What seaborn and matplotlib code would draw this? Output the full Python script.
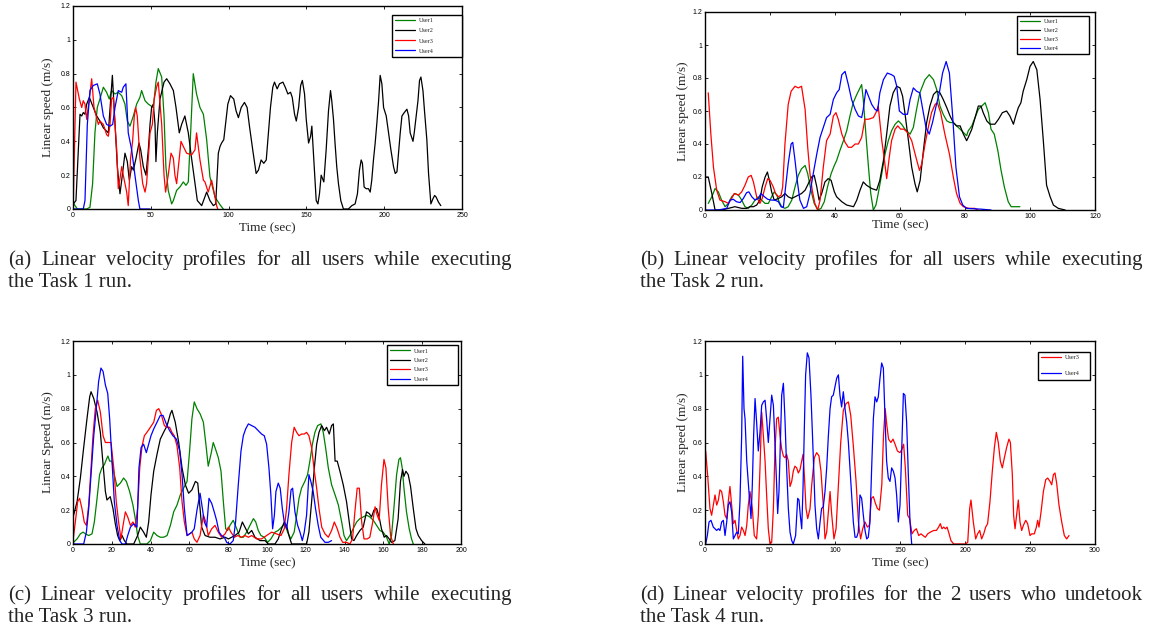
import matplotlib
matplotlib.use("Agg")
import pandas as pd
from matplotlib import pyplot as plt
import seaborn as sns

# (time in s, linear speed in m/s)
a_user1 = [(0, 0.04), (1.3, 0.02), (2.8, 0), (8.8, 0), (10.9, 0.01), (12.6, 0.15), (14.1, 0.45), (15.6, 0.6),
           (17.3, 0.65), (19.5, 0.72), (21.6, 0.69), (23.3, 0.65), (24.8, 0.7), (27, 0.68), (29.1, 0.69),
           (31.3, 0.67), (33.4, 0.62), (34.9, 0.52), (36.6, 0.49), (38.8, 0.55), (40.9, 0.62), (43, 0.66),
           (44.1, 0.7), (46.3, 0.64), (48.4, 0.62), (51.6, 0.6), (53.3, 0.75), (54.8, 0.83), (57, 0.78),
           (58.5, 0.55), (59.7, 0.25), (61.2, 0.11), (63.4, 0.03), (64.5, 0.05), (66.6, 0.11), (68.7, 0.13),
           (70.9, 0.16), (72.6, 0.14), (74.1, 0.16), (75.6, 0.45), (77.3, 0.8), (79.4, 0.68), (81.6, 0.6),
           (83.8, 0.56), (85.9, 0.41), (88, 0.19), (91.3, 0.07), (94.5, 0.025), (96.6, 0)]
a_user2 = [(0.2, 0.03), (1.9, 0.05), (4.5, 0.56), (5.6, 0.55), (6.6, 0.57), (7.7, 0.56), (8.8, 0.62), (10.5, 0.66),
           (13.1, 0.6), (15.2, 0.55), (17.3, 0.52), (19.5, 0.48), (21.6, 0.46), (22.7, 0.45), (24.2, 0.65),
           (25.3, 0.79), (27, 0.5), (28.5, 0.25), (30.2, 0.09), (31.7, 0.2), (33.4, 0.33), (34.9, 0.28),
           (36.2, 0.17), (37.7, 0.25), (38.8, 0.23), (40.5, 0.3), (42.4, 0.39), (43.5, 0.35), (45.2, 0.25),
           (46.9, 0.2), (48.4, 0.35), (49.5, 0.5), (50.5, 0.6), (51.6, 0.62), (52.7, 0.5), (53.3, 0.28),
           (54.2, 0.45), (55.9, 0.65), (58.5, 0.75), (60.2, 0.77), (62.3, 0.74), (64.5, 0.7), (66.2, 0.6),
           (68.3, 0.45), (69.8, 0.5), (71.9, 0.55), (74.1, 0.45), (76.2, 0.3), (77.7, 0.2), (79.9, 0.05),
           (82.7, 0.02), (85.9, 0.1), (88, 0.05), (90.2, 0.02), (91.7, 0.03), (93.4, 0.33), (94.5, 0.37),
           (95.5, 0.39), (96.9, 0.41), (98.4, 0.53), (99.5, 0.62), (101.2, 0.67), (103.3, 0.65), (104.8, 0.58),
           (106.3, 0.54), (108.1, 0.6), (110.2, 0.63), (111.9, 0.6), (113.4, 0.49), (115.5, 0.35), (117.7, 0.21),
           (119.2, 0.23), (120.9, 0.29), (122.6, 0.27), (124.2, 0.29), (125.6, 0.45), (126.9, 0.6), (128.4, 0.72),
           (129.5, 0.75), (131.2, 0.71), (132.7, 0.74), (134.9, 0.75), (136.4, 0.72), (138.1, 0.68), (139.8, 0.69),
           (140.9, 0.66), (142.4, 0.56), (143.5, 0.52), (145, 0.6), (146.3, 0.73), (147.4, 0.76), (148.8, 0.68),
           (149.9, 0.53), (151.4, 0.39), (152.7, 0.43), (153.5, 0.49), (154.8, 0.29), (156.3, 0.05), (157.4, 0.03),
           (158.4, 0.09), (159.5, 0.2), (161.2, 0.16), (162.7, 0.35), (164.2, 0.58), (165.5, 0.7), (166.3, 0.64),
           (167.4, 0.53), (168.4, 0.39), (169.5, 0.25), (170.6, 0.15), (172.1, 0.05), (173.8, 0), (177, 0),
           (179.2, 0.02), (181.3, 0.03), (182.8, 0.09), (184.1, 0.23), (185.2, 0.29), (186, 0.27), (187.1, 0.13),
           (188.4, 0.12), (189.9, 0.12), (191, 0.1), (192, 0.17), (193.1, 0.29), (194.2, 0.39), (195.3, 0.51),
           (196.4, 0.64), (197.4, 0.79), (198.5, 0.74), (199.6, 0.6), (201.3, 0.55), (202.8, 0.45), (204.3, 0.35),
           (206, 0.25), (207.1, 0.21), (208.2, 0.22), (209.2, 0.33), (210.3, 0.45), (211.4, 0.55), (212.9, 0.57),
           (214.6, 0.59), (215.7, 0.55), (216.7, 0.45), (218.5, 0.4), (219.3, 0.45), (220.6, 0.55), (221.7, 0.64),
           (222.7, 0.76), (223.6, 0.78), (224.9, 0.7), (225.9, 0.58), (227.4, 0.41), (228.5, 0.21), (230, 0.03),
           (231.3, 0.06), (232.4, 0.08), (233.4, 0.07), (234.9, 0.04), (236.4, 0.02)]
a_user3 = [(0.2, 0.05), (1.9, 0.75), (4.1, 0.65), (5.6, 0.6), (6.6, 0.64), (7.7, 0.62), (8.8, 0.53), (10.5, 0.65),
           (12, 0.77), (13.5, 0.6), (16.3, 0.5), (17.3, 0.52), (19.5, 0.5), (21.6, 0.44), (22.7, 0.43), (23.8, 0.5),
           (24.8, 0.65), (25.9, 0.66), (27, 0.5), (28.1, 0.35), (29.1, 0.12), (30.2, 0.18), (31.3, 0.25),
           (32.3, 0.2), (33.4, 0.15), (34.5, 0.1), (35.5, 0.02), (37, 0.3), (38.3, 0.4), (39.4, 0.55), (40.3, 0.6),
           (41.3, 0.55), (43, 0.3), (44.8, 0.15), (46.3, 0.1), (47.3, 0.15), (48.4, 0.3), (49.5, 0.45), (51, 0.5),
           (52.2, 0.65), (53.7, 0.72), (54.8, 0.75), (57, 0.5), (58.5, 0.2), (59.5, 0.1), (61.2, 0.2), (63, 0.33),
           (64.5, 0.3), (65.5, 0.2), (66.6, 0.15), (68.3, 0.3), (69.4, 0.4), (70.9, 0.37), (73, 0.33), (76.2, 0.32),
           (78.4, 0.35), (79.4, 0.45), (81.6, 0.29), (83.8, 0.17), (84.8, 0.16), (86.9, 0.1), (89.1, 0.17),
           (90.2, 0.12), (92.3, 0.02), (93, 0)]
a_user4 = [(0, 0), (6.6, 0), (7.7, 0.05), (9.2, 0.5), (10.9, 0.7), (13, 0.73), (15.6, 0.74), (17.3, 0.68),
           (19.5, 0.55), (21.6, 0.5), (23.8, 0.49), (25.5, 0.5), (27, 0.6), (29.1, 0.7), (31.3, 0.69), (32.3, 0.72),
           (34, 0.74), (35.5, 0.45), (37.7, 0.35), (39.8, 0.2), (42, 0.05), (43, 0), (49.5, 0)]

b_user1 = [(1, 0.04), (2.1, 0.08), (3.1, 0.13), (4.1, 0.11), (5.1, 0.06), (6.2, 0.02), (7.2, 0.04), (8.2, 0.08),
           (9.2, 0.1), (10.3, 0.09), (11.3, 0.06), (12.3, 0.02), (13.3, 0.01), (14.4, 0.03), (15.4, 0.06),
           (16.4, 0.08), (17.4, 0.06), (18.5, 0.04), (19.5, 0.04), (20.5, 0.08), (21.3, 0.11), (22.1, 0.09),
           (22.8, 0.05), (23.6, 0.02), (24.6, 0.01), (25.6, 0.02), (26.7, 0.06), (27.7, 0.14), (28.7, 0.21),
           (29.7, 0.25), (30.8, 0.27), (31.6, 0.22), (32.6, 0.12), (33.6, 0.04), (34.7, 0), (35.7, 0.01),
           (36.7, 0.05), (37.7, 0.14), (38.8, 0.22), (39.8, 0.27), (40.5, 0.3), (41.5, 0.36), (42.6, 0.42),
           (43.6, 0.48), (44.6, 0.57), (45.6, 0.65), (46.7, 0.7), (47.7, 0.74), (48.2, 0.76), (48.7, 0.67),
           (49.5, 0.46), (50.3, 0.26), (51, 0.1), (51.8, 0), (52.6, 0.03), (53.3, 0.1), (54.4, 0.22), (55.4, 0.34),
           (56.4, 0.42), (57.4, 0.48), (58.5, 0.52), (59.5, 0.54), (60.5, 0.52), (61.5, 0.49), (63.1, 0.46),
           (64.1, 0.5), (65.1, 0.61), (66.1, 0.71), (67.7, 0.79), (69, 0.82), (70.3, 0.79), (71.3, 0.73),
           (72.3, 0.63), (73.3, 0.58), (74.4, 0.54), (75.4, 0.53), (76.4, 0.53), (77.4, 0.51), (78.5, 0.49),
           (79.5, 0.47), (80.5, 0.45), (81, 0.48), (82.1, 0.51), (83.1, 0.56), (84.1, 0.61), (86.2, 0.65),
           (87.2, 0.59), (88, 0.49), (89, 0.46), (90.1, 0.36), (91.1, 0.24), (92.1, 0.14), (93.3, 0.05),
           (94.2, 0.02), (96.9, 0.02)]
b_user2 = [(0, 0.2), (1, 0.2), (2.1, 0.1), (3.1, 0), (5.1, 0), (7.2, 0.01), (9.2, 0.02), (11.3, 0.01), (12.8, 0.01),
           (13.8, 0.02), (14.9, 0.02), (15.9, 0.03), (16.9, 0.06), (17.6, 0.14), (18.5, 0.2), (19.2, 0.23),
           (19.8, 0.18), (20.5, 0.11), (21.3, 0.06), (22.6, 0.07), (23.6, 0.08), (24.6, 0.1), (25.6, 0.08),
           (26.7, 0.07), (27.7, 0.08), (28.7, 0.09), (29.7, 0.1), (30.8, 0.12), (31.8, 0.16), (32.8, 0.2),
           (33.6, 0.21), (34.4, 0.14), (35.1, 0.06), (35.9, 0.1), (36.9, 0.17), (37.9, 0.19), (38.8, 0.18),
           (39.8, 0.11), (40.5, 0.08), (42.1, 0.05), (43.6, 0.03), (45.7, 0.02), (46.7, 0.06), (47.7, 0.12),
           (48.7, 0.17), (49.7, 0.15), (51.3, 0.13), (52.8, 0.12), (53.8, 0.18), (54.9, 0.3), (55.9, 0.46),
           (56.9, 0.63), (57.9, 0.71), (59, 0.75), (60, 0.74), (60.8, 0.69), (61.5, 0.59), (62.6, 0.42),
           (63.6, 0.26), (64.6, 0.16), (65.3, 0.11), (66.2, 0.18), (67.2, 0.36), (68.2, 0.53), (69.2, 0.63),
           (70.3, 0.7), (71.3, 0.72), (72.3, 0.71), (73.3, 0.67), (74.4, 0.62), (75.4, 0.57), (76.4, 0.53),
           (77.4, 0.51), (78.5, 0.51), (79.5, 0.46), (80.5, 0.42), (81, 0.44), (82.1, 0.49), (83.1, 0.56),
           (84.1, 0.63), (84.9, 0.63), (85.6, 0.59), (86.7, 0.54), (87.7, 0.52), (89.2, 0.52), (90.3, 0.55),
           (91.5, 0.59), (92.8, 0.6), (93.8, 0.57), (94.9, 0.52), (95.6, 0.57), (96.4, 0.62), (97.2, 0.65),
           (97.9, 0.72), (99, 0.79), (100, 0.87), (101, 0.9), (102.1, 0.85), (103.1, 0.67), (104.1, 0.42),
           (105.1, 0.15), (106.2, 0.08), (107.2, 0.03), (108.7, 0.01), (110.8, 0)]
b_user3 = [(1, 0.71), (1.8, 0.46), (2.6, 0.26), (3.6, 0.12), (4.6, 0.06), (6.2, 0.05), (7.2, 0.04), (8.2, 0.07),
           (9, 0.1), (10.3, 0.09), (11.3, 0.11), (12.3, 0.15), (13.3, 0.2), (14.2, 0.21), (14.9, 0.17), (15.9, 0.08),
           (16.9, 0.04), (17.6, 0.07), (18.5, 0.14), (19.3, 0.19), (20, 0.18), (21, 0.14), (21.7, 0.1), (22.6, 0.08),
           (23.4, 0.09), (23.9, 0.14), (24.6, 0.4), (25.6, 0.64), (26.5, 0.72), (27.7, 0.75), (28.7, 0.74),
           (29.7, 0.75), (30.8, 0.61), (31.6, 0.38), (32.3, 0.22), (33, 0.12), (33.8, 0.04), (34.7, 0), (35.4, 0.06),
           (36.4, 0.26), (37.4, 0.42), (38.5, 0.46), (39.5, 0.57), (40.3, 0.59), (41, 0.55), (42.1, 0.46),
           (43.1, 0.41), (44.1, 0.38), (45.1, 0.38), (46.2, 0.4), (47.2, 0.4), (48.2, 0.44), (49.2, 0.55),
           (50.3, 0.55), (51.8, 0.56), (52.6, 0.59), (53.3, 0.63), (54.4, 0.42), (55.1, 0.32), (55.9, 0.19),
           (56.7, 0.32), (57.4, 0.42), (58.5, 0.49), (59.3, 0.51), (60.2, 0.49), (61.2, 0.49), (62.3, 0.47),
           (63.6, 0.42), (64.9, 0.32), (66, 0.24), (66.7, 0.28), (67.7, 0.4), (68.7, 0.5), (69.7, 0.59),
           (70.8, 0.64), (71.5, 0.65), (72.5, 0.59), (73.8, 0.46), (75.2, 0.34), (76.4, 0.2), (77.4, 0.1),
           (78.5, 0.04), (79.5, 0.02), (81.1, 0.01), (83, 0.01), (84, 0)]
b_user4 = [(0, 0), (4.1, 0), (6.7, 0.01), (7.7, 0.06), (8.7, 0.065), (9.7, 0.05), (10.8, 0.045), (11.8, 0.07),
           (12.8, 0.105), (13.5, 0.11), (14.4, 0.08), (15.4, 0.06), (16.4, 0.07), (17.2, 0.1), (18.3, 0.08),
           (19.3, 0.065), (20.5, 0.06), (21.5, 0.06), (22.6, 0.05), (23.4, 0.02), (24.1, 0.015), (24.8, 0.14),
           (25.6, 0.28), (26.5, 0.4), (27, 0.41), (27.7, 0.3), (28.5, 0.16), (29.2, 0.06), (30.3, 0.01),
           (31.3, 0.02), (32.3, 0.1), (33.3, 0.22), (34.4, 0.34), (35.4, 0.44), (36.4, 0.5), (37.4, 0.56),
           (38.5, 0.58), (39.5, 0.67), (40.5, 0.71), (41.3, 0.73), (42.1, 0.82), (43.1, 0.84), (44.1, 0.76),
           (45.1, 0.67), (46.2, 0.61), (47.2, 0.57), (48.2, 0.56), (48.7, 0.61), (49.5, 0.73), (50.3, 0.69),
           (51.3, 0.64), (52.3, 0.61), (53.1, 0.6), (53.8, 0.71), (54.9, 0.79), (56.1, 0.83), (57.4, 0.82),
           (58.2, 0.81), (59, 0.75), (59.8, 0.6), (61, 0.58), (62.3, 0.58), (63.1, 0.67), (64.1, 0.74),
           (65.1, 0.72), (66.1, 0.71), (67, 0.61), (68, 0.5), (69, 0.46), (70, 0.53), (71.1, 0.63), (72.1, 0.71),
           (73.1, 0.83), (74.2, 0.9), (75.2, 0.83), (76.2, 0.57), (77.2, 0.26), (78.3, 0.08), (79.3, 0.03),
           (80.5, 0.01), (85, 0.005), (88, 0)]

c_user1 = [(0.3, 0.01), (2.1, 0.03), (3.8, 0.06), (5.2, 0.07), (6.4, 0.06), (8.1, 0.05), (9.8, 0.06), (11, 0.13),
           (12.4, 0.27), (13.7, 0.41), (14.9, 0.45), (16.2, 0.47), (17.2, 0.5), (18, 0.52), (18.9, 0.49),
           (20.1, 0.49), (21.3, 0.41), (22.7, 0.34), (24.4, 0.36), (26.1, 0.39), (27.5, 0.37), (29.2, 0.31),
           (30.9, 0.23), (32.1, 0.15), (33.3, 0.05), (34.7, 0), (38.1, 0), (39.9, 0.02), (41.6, 0.07), (43.3, 0.05),
           (45, 0.04), (46.7, 0.04), (48.5, 0.05), (50.2, 0.11), (51.9, 0.19), (53.6, 0.23), (55.3, 0.29),
           (57, 0.33), (58.8, 0.37), (60.1, 0.55), (61.3, 0.74), (62.5, 0.84), (63.9, 0.8), (65.5, 0.77),
           (67.2, 0.72), (68.5, 0.59), (69.7, 0.46), (71.1, 0.53), (72.3, 0.6), (73.5, 0.56), (74.9, 0.51),
           (76.3, 0.43), (77.5, 0.25), (78.7, 0.09), (79.7, 0.08), (80.9, 0.11), (82.6, 0.14), (84.4, 0.09),
           (86.1, 0.04), (87.8, 0.04), (89.5, 0.07), (91.2, 0.11), (93, 0.15), (94.2, 0.13), (95.5, 0.08),
           (96.9, 0.05), (98.6, 0.04), (100.3, 0.01), (102, 0.03), (104.1, 0.07), (105.8, 0.08), (107.5, 0.1),
           (109.2, 0.12), (110.6, 0.07), (112.3, 0.03), (114, 0.07), (115.3, 0.17), (116.5, 0.27), (117.8, 0.33),
           (119.5, 0.37), (120.9, 0.41), (122.1, 0.49), (123.4, 0.59), (124.7, 0.66), (126.1, 0.7), (127.8, 0.71),
           (129, 0.66), (130.2, 0.57), (131.6, 0.45), (133.3, 0.35), (135.1, 0.29), (136.8, 0.23), (138.5, 0.13),
           (139.7, 0.05), (141, 0.02), (142.7, 0.05), (144.4, 0.09), (146.2, 0.13), (147.9, 0.15), (149.6, 0.16),
           (151.3, 0.17), (153, 0.16), (154.8, 0.14), (156.5, 0.11), (158.2, 0.08), (159.9, 0.07), (161.6, 0.04),
           (163, 0), (164.2, 0.05), (165.4, 0.21), (166.8, 0.41), (168, 0.5), (168.8, 0.51), (169.7, 0.45),
           (170.6, 0.33), (171.9, 0.19), (173.3, 0.09), (174.5, 0.03), (175.4, 0)]
c_user2 = [(0.3, 0.17), (2.1, 0.25), (3.8, 0.39), (5.5, 0.57), (7.2, 0.74), (8.6, 0.87), (9.3, 0.9), (10.7, 0.86),
           (12.4, 0.78), (14.1, 0.66), (15.5, 0.47), (16.7, 0.31), (17.5, 0.26), (19.2, 0.28), (20.6, 0.21),
           (21.8, 0.12), (23, 0.05), (24.1, 0.02), (25.3, 0.05), (26.5, 0.02), (27.8, 0), (31.3, 0), (33.3, 0.05),
           (34.7, 0.1), (36.4, 0.07), (37.8, 0.04), (39, 0.13), (40.2, 0.29), (41.6, 0.43), (43.3, 0.53),
           (45, 0.62), (46.7, 0.66), (48.5, 0.7), (50.2, 0.77), (51, 0.79), (52.7, 0.72), (54.5, 0.6), (56.2, 0.45),
           (57.9, 0.35), (59.6, 0.3), (61.3, 0.32), (63.1, 0.37), (64.3, 0.36), (65.5, 0.21), (66.3, 0.1),
           (68.1, 0.05), (70.6, 0.04), (73.2, 0.04), (75.8, 0.03), (78.4, 0.04), (80.1, 0.03), (81.8, 0.04),
           (83.5, 0.05), (85.6, 0.07), (87.3, 0.13), (88.6, 0.1), (90.4, 0.06), (92.1, 0.08), (93.8, 0.04),
           (96.4, 0.02), (99, 0.02), (100.7, 0), (104.1, 0), (105.8, 0.03), (107.5, 0.09), (108.9, 0.13),
           (110.1, 0.11), (111.3, 0.05), (112.7, 0), (120.4, 0), (121.6, 0.07), (123, 0.25), (124.4, 0.45),
           (125.6, 0.59), (126.8, 0.66), (128.2, 0.7), (129.6, 0.67), (130.7, 0.69), (132.1, 0.65), (133.3, 0.7),
           (134.2, 0.71), (135.1, 0.49), (136.2, 0.49), (137.6, 0.43), (139.3, 0.35), (141, 0.25), (142.4, 0.13),
           (143.6, 0.03), (144.8, 0.02), (146.2, 0.05), (147.9, 0.08), (149.6, 0.1), (151.3, 0.19), (152.7, 0.18),
           (153.9, 0.16), (155.1, 0.2), (156.5, 0.21), (157.8, 0.16), (159, 0.09), (160.4, 0.04), (161.6, 0.05),
           (163, 0.03), (164.2, 0.01), (165.9, 0.02), (167.6, 0.15), (168.8, 0.37), (169.9, 0.44), (170.6, 0.4),
           (171.6, 0.43), (172.8, 0.41), (174, 0.34), (175.4, 0.21), (176.8, 0.09), (178, 0.05), (179.7, 0.02),
           (181.4, 0)]
c_user3 = [(0, 0.02), (1.2, 0.13), (2.4, 0.25), (3.4, 0.27), (4.6, 0.21), (5.8, 0.13), (6.9, 0.11), (8.1, 0.23),
           (9.3, 0.45), (10.3, 0.64), (11.5, 0.8), (12.7, 0.85), (14.1, 0.78), (15.5, 0.64), (16.7, 0.6),
           (18.4, 0.6), (19.6, 0.6), (21, 0.45), (22.3, 0.25), (23.5, 0.13), (24.7, 0.03), (25.8, 0.11), (27, 0.19),
           (28.2, 0.16), (29.6, 0.11), (30.9, 0.13), (32.1, 0.1), (33.3, 0.21), (34.4, 0.45), (35.6, 0.58),
           (36.8, 0.64), (38.1, 0.66), (39.9, 0.69), (41.6, 0.72), (43, 0.79), (44.2, 0.8), (45.4, 0.77),
           (47.1, 0.7), (48.5, 0.69), (49.8, 0.69), (51, 0.66), (52.2, 0.64), (53.6, 0.58), (55, 0.45), (56.2, 0.25),
           (57.4, 0.13), (58.8, 0.05), (60.1, 0.06), (61.3, 0.07), (62.5, 0.03), (63.9, 0.01), (65.5, 0.05),
           (67.2, 0.17), (68.5, 0.13), (69.7, 0.05), (71.5, 0.09), (73.2, 0.11), (74.9, 0.07), (76.6, 0.04),
           (78.4, 0.06), (80.1, 0.1), (81.4, 0.07), (83.2, 0.04), (84.9, 0.05), (86.9, 0.04), (88.6, 0.05),
           (90.4, 0.04), (92.1, 0.05), (94.7, 0.03), (97.2, 0.03), (99.8, 0.05), (102.4, 0.07), (104.9, 0.06),
           (107.2, 0.05), (108.9, 0.09), (110.1, 0.21), (111.3, 0.41), (112.7, 0.6), (114, 0.69), (115.3, 0.66),
           (116.5, 0.64), (117.8, 0.65), (119.2, 0.65), (120.4, 0.66), (121.6, 0.64), (123, 0.57), (124.4, 0.43),
           (125.6, 0.33), (126.8, 0.21), (128.2, 0.1), (129.9, 0.06), (131.6, 0.04), (133.3, 0.08), (134.7, 0.13),
           (136.2, 0.09), (137.6, 0.04), (139, 0.01), (141, 0.01), (142.7, 0), (144.1, 0.03), (145.3, 0.19),
           (146.5, 0.33), (147.6, 0.33), (148.8, 0.13), (150, 0.03), (151.7, 0.03), (153, 0.04), (154.5, 0.13),
           (155.7, 0.22), (156.5, 0.18), (157.8, 0.14), (159, 0.35), (160.3, 0.5), (161.3, 0.45), (162.5, 0.21),
           (163.7, 0.05), (165.1, 0)]
c_user4 = [(0, 0), (5.5, 0), (6.9, 0.07), (8.1, 0.21), (9.3, 0.41), (10.7, 0.64), (12, 0.8), (13.2, 0.96),
           (14.4, 1.04), (15.5, 1.02), (16.7, 0.94), (17.9, 0.89), (18.9, 0.74), (20.1, 0.49), (21.3, 0.25),
           (22.7, 0.11), (24.1, 0.02), (25.3, 0), (27, 0), (28.2, 0.05), (29.6, 0.1), (31.3, 0.12), (33, 0.1),
           (34, 0.45), (35.1, 0.57), (36.4, 0.59), (37.8, 0.54), (39, 0.59), (40.2, 0.64), (41.6, 0.68),
           (43.3, 0.72), (45, 0.76), (46.4, 0.76), (48.1, 0.71), (49.8, 0.67), (51.5, 0.64), (53.3, 0.62),
           (55, 0.55), (56.2, 0.41), (57.4, 0.21), (58.8, 0.05), (60.1, 0.06), (61.3, 0.07), (62.5, 0.09),
           (63.9, 0.2), (65.5, 0.3), (66.7, 0.21), (67.7, 0.13), (68.9, 0.1), (70.1, 0.27), (71.5, 0.24),
           (72.8, 0.19), (74, 0.14), (75.3, 0.07), (76.6, 0.05), (78, 0.04), (79.2, 0.01), (80.9, 0), (82.6, 0.02),
           (83.8, 0.13), (85.2, 0.35), (86.6, 0.55), (87.8, 0.64), (89, 0.68), (90.4, 0.71), (92.1, 0.7),
           (93.8, 0.69), (95.5, 0.67), (97.2, 0.65), (98.6, 0.64), (99.8, 0.59), (101, 0.45), (102, 0.29),
           (102.9, 0.09), (103.8, 0.17), (104.6, 0.31), (105.8, 0.36), (106.8, 0.33), (107.9, 0.21), (108.9, 0.13),
           (110.1, 0.09), (111.3, 0.19), (112.4, 0.32), (113.2, 0.33), (114.4, 0.19), (115.8, 0.11), (117, 0.07),
           (118.2, 0.02), (119.2, 0.07), (120.4, 0.17), (121.6, 0.41), (122.6, 0.37), (123.8, 0.31), (125, 0.21),
           (126.4, 0.11), (127.7, 0.04), (129.9, 0.01), (131.6, 0.01), (133.3, 0.02)]

d_user3 = [(0.5, 0.55), (2, 0.41), (3.8, 0.21), (5.1, 0.17), (6.4, 0.23), (7.7, 0.29), (9, 0.23), (10.3, 0.26),
           (11.5, 0.32), (12.8, 0.31), (14.1, 0.25), (15.4, 0.17), (16.7, 0.15), (17.9, 0.25), (19.2, 0.34),
           (20.5, 0.23), (21.8, 0.12), (23.1, 0.14), (24.4, 0.08), (25.6, 0.03), (26.9, 0.05), (28.2, 0.1),
           (29.5, 0.08), (30.8, 0.05), (32.1, 0.11), (33.3, 0.23), (34.6, 0.31), (36.4, 0.21), (37.9, 0.05),
           (39.7, 0.03), (41, 0.17), (42.3, 0.45), (43.6, 0.78), (44.9, 0.64), (46.2, 0.49), (47.4, 0.29),
           (48.7, 0.09), (50, 0), (51.3, 0.01), (52.6, 0.21), (53.8, 0.55), (55.1, 0.74), (56.4, 0.75), (57.7, 0.64),
           (59, 0.56), (60.3, 0.52), (61.5, 0.51), (62.8, 0.53), (64.1, 0.49), (65.4, 0.34), (66.7, 0.37),
           (67.9, 0.43), (69.2, 0.46), (70.5, 0.45), (71.8, 0.42), (73.1, 0.44), (74.4, 0.49), (75.4, 0.53),
           (76.4, 0.41), (77.7, 0.21), (79, 0.15), (80.8, 0.21), (82.1, 0.35), (84.1, 0.51), (85.9, 0.54),
           (87.7, 0.52), (89.2, 0.43), (90.8, 0.25), (92.3, 0.03), (93.6, 0.07), (94.9, 0.19), (96.2, 0.31),
           (97.4, 0.18), (99.2, 0.03), (100.8, 0.09), (102.6, 0.35), (104.4, 0.6), (106.4, 0.79), (108.5, 0.83),
           (110.3, 0.84), (112.1, 0.76), (114.1, 0.58), (116.2, 0.37), (118, 0.13), (119.7, 0.03), (121.3, 0.09),
           (123.1, 0.13), (124.9, 0.1), (126.4, 0.11), (128, 0.27), (129.5, 0.28), (131.1, 0.24), (132.6, 0.21),
           (134.2, 0.2), (136, 0.35), (137.3, 0.64), (138.6, 0.8), (139.9, 0.7), (141.2, 0.62), (143, 0.6),
           (144.6, 0.62), (146.2, 0.59), (148, 0.55), (150, 0.54), (151.5, 0.56), (152.8, 0.59), (154.1, 0.45),
           (155.9, 0.17), (157.4, 0.15), (159.2, 0.06), (161, 0.08), (162.6, 0.09), (164.4, 0.05), (166.2, 0.06),
           (167.7, 0.05), (169.5, 0.04), (171.3, 0.06), (173.3, 0.07), (175.9, 0.08), (178, 0.08), (179.7, 0.1),
           (181, 0.12), (182.3, 0.09), (183.6, 0.1), (184.9, 0.09), (186.2, 0.1), (187.4, 0.07), (189.2, 0.02),
           (191.3, 0), (200.3, 0), (202.1, 0.01), (203.6, 0.21), (204.6, 0.26), (206.4, 0.13), (208.2, 0.03),
           (209.7, 0.06), (211.3, 0.08), (212.8, 0.03), (214.4, 0.06), (215.9, 0.1), (217.4, 0.12), (219.2, 0.25),
           (221, 0.43), (222.6, 0.57), (224.1, 0.66), (225.6, 0.6), (227.2, 0.49), (228.7, 0.45), (230.3, 0.51),
           (232, 0.57), (233.8, 0.62), (234.9, 0.6), (236.4, 0.41), (237.4, 0.17), (238.5, 0.09), (239.7, 0.17),
           (241, 0.26), (242.3, 0.13), (243.6, 0.08), (244.9, 0.11), (246.7, 0.14), (248.2, 0.12), (250, 0.05),
           (251.3, 0.06), (253.3, 0.06), (254.9, 0.1), (255.9, 0.14), (256.9, 0.1), (258.5, 0.19), (260.3, 0.31),
           (262.1, 0.38), (263.6, 0.39), (265.4, 0.37), (266.7, 0.35), (268, 0.41), (269.2, 0.42), (270.5, 0.36),
           (272.3, 0.23), (274.4, 0.13), (276.4, 0.05), (278.2, 0.03), (280, 0.05)]
d_user4 = [(0.5, 0), (1.8, 0.05), (3.1, 0.13), (4.6, 0.14), (6.4, 0.1), (7.7, 0.09), (9, 0.08), (10.3, 0.09),
           (11.5, 0.08), (12.8, 0.13), (14.1, 0.14), (15.4, 0.05), (16.7, 0.13), (17.9, 0.23), (19.2, 0.25),
           (20.5, 0.19), (21.8, 0.03), (23.1, 0.05), (24.4, 0.07), (25.6, 0.06), (26.9, 0.25), (28.2, 0.64),
           (29, 1.11), (30, 0.8), (30.8, 0.74), (32.1, 0.49), (33.8, 0.31), (35.4, 0.15), (36.4, 0.35),
           (37.4, 0.64), (38.5, 0.86), (39.7, 0.72), (41, 0.55), (42.3, 0.66), (43.6, 0.82), (44.9, 0.84),
           (46.2, 0.85), (47.4, 0.74), (48.7, 0.6), (50, 0.74), (51.3, 0.88), (52.6, 0.82), (53.8, 0.6),
           (55.1, 0.35), (55.9, 0.18), (56.9, 0.31), (57.9, 0.58), (59, 0.88), (60.3, 0.95), (61.5, 0.74),
           (62.8, 0.45), (64.1, 0.21), (65.4, 0.07), (66.7, 0.02), (67.9, 0), (69.7, 0.05), (71.3, 0.27),
           (72.3, 0.26), (73.3, 0.17), (74.4, 0.09), (75.4, 0.33), (76.4, 0.68), (77.4, 1.0), (78.7, 1.13),
           (80, 1.1), (81.5, 0.88), (82.6, 0.66), (83.6, 0.45), (84.6, 0.23), (85.9, 0.09), (87.2, 0.03),
           (88.5, 0.13), (89.7, 0.21), (91, 0.22), (92.3, 0.31), (93.6, 0.45), (94.9, 0.64), (96.2, 0.8),
           (97.4, 0.87), (98.7, 0.88), (100, 0.93), (101.3, 0.98), (102.6, 1.0), (103.8, 0.88), (105.1, 0.81),
           (106.4, 0.9), (107.7, 0.8), (109, 0.72), (110.3, 0.6), (111.5, 0.45), (112.8, 0.29), (114.1, 0.13),
           (115.4, 0.04), (116.7, 0.04), (117.9, 0.07), (119.2, 0.29), (120.5, 0.27), (121.8, 0.17), (123.1, 0.08),
           (124.4, 0.03), (125.6, 0.04), (126.9, 0.13), (128.2, 0.45), (129.5, 0.74), (130.8, 0.87), (132.1, 0.84),
           (133.3, 0.87), (134.6, 0.98), (135.9, 1.07), (137.2, 1.04), (138.5, 0.74), (139.7, 0.49), (141, 0.39),
           (142.3, 0.37), (143.6, 0.45), (144.9, 0.43), (146.2, 0.39), (147.4, 0.29), (148.7, 0.13), (150, 0.23),
           (151.3, 0.55), (152.6, 0.89), (153.8, 0.88), (155.1, 0.72), (156.4, 0.41), (157.7, 0.13), (159, 0)]

y_ticks = [0, 0.2, 0.4, 0.6, 0.8, 1, 1.2]
y_tick_labels = ["0", "0.2", "0.4", "0.6", "0.8", "1", "1.2"]

COLORS = {"User1": "#008000", "User2": "black", "User3": "red", "User4": "blue"}

W, H = 1151, 630
CAPTION_SIZE = 15

panels = [
    dict(box=(73, 6, 462, 209), series={"User1": a_user1, "User2": a_user2, "User3": a_user3, "User4": a_user4},
         xticks=range(0, 251, 50), ylabel="Linear speed (m/s)", ylab_x=-0.063, xlab_y=-0.094,
         leg=(0.82, 0.0, 0.18, 0.956), leg_space=0.75,
         caption=("(a) Linear velocity profiles for all users while executing", "the Task 1 run."),
         cap_x=(8, 512), cap_y=(265, 287)),
    dict(box=(705, 12, 1095, 210), series={"User1": b_user1, "User2": b_user2, "User3": b_user3, "User4": b_user4},
         xticks=range(0, 121, 20), ylabel="Linear speed (m/s)", ylab_x=-0.056, xlab_y=-0.076,
         leg=(0.80, 0.0, 0.185, 0.98), leg_space=0.55,
         caption=("(b) Linear velocity profiles for all users while executing", "the Task 2 run."),
         cap_x=(640, 1143), cap_y=(265, 287)),
    dict(box=(73, 341, 461, 544), series={"User1": c_user1, "User2": c_user2, "User3": c_user3, "User4": c_user4},
         xticks=range(0, 201, 20), ylabel="Linear Speed (m/s)", ylab_x=-0.064, xlab_y=-0.094,
         leg=(0.809, 0.0, 0.183, 0.98), leg_space=0.65,
         caption=("(c) Linear velocity profiles for all users while executing", "the Task 3 run."),
         cap_x=(8, 512), cap_y=(600, 622)),
    dict(box=(705, 341, 1095, 544), series={"User3": d_user3, "User4": d_user4},
         xticks=range(0, 301, 50), ylabel="Linear speed (m/s)", ylab_x=-0.056, xlab_y=-0.094,
         leg=(0.854, 0.0, 0.133, 0.946), leg_space=1.7,
         caption=("(d) Linear velocity profiles for the 2 users who undetook", "the Task 4 run."),
         cap_x=(640, 1143), cap_y=(600, 622)),
]


def to_frame(series):
    rows = []
    for user, pts in series.items():
        for t, v in pts:
            rows.append((user, t, v))
    return pd.DataFrame(rows, columns=["user", "time", "speed"])


def justified_line(fig, x0, x1, y, text, size):
    # spread the words so the line runs from x0 to x1 (pixels)
    renderer = fig.canvas.get_renderer()
    words = text.split()
    arts = [fig.text(0, 1 - y / H, w, fontsize=size, va="baseline") for w in words]
    widths = [a.get_window_extent(renderer).width for a in arts]
    gap = (x1 - x0 - sum(widths)) / (len(words) - 1)
    x = x0
    for a, w in zip(arts, widths):
        a.set_x(x / W)
        x += w + gap


def plain_line(fig, x0, y, text, size):
    fig.text(x0 / W, 1 - y / H, text, fontsize=size, va="baseline")


sns.set_style("ticks")
plt.rcParams["font.family"] = ["Liberation Serif", "DejaVu Serif"]
plt.rcParams["axes.linewidth"] = 1.0

fig = plt.figure(figsize=(W / 100, H / 100), dpi=100)

for p in panels:
    x0, y0, x1, y1 = p["box"]
    ax = fig.add_axes([x0 / W, 1 - y1 / H, (x1 - x0) / W, (y1 - y0) / H])
    df = to_frame(p["series"])
    pal = {k: COLORS[k] for k in p["series"]}
    sns.lineplot(data=df, x="time", y="speed", hue="user", palette=pal, estimator=None,
                 sort=False, linewidth=0.9, ax=ax)
    ax.set_xlim(p["xticks"][0], p["xticks"][-1])
    ax.set_ylim(0, 1.2)
    ax.set_xticks(list(p["xticks"]))
    ax.set_yticks(y_ticks)
    ax.set_yticklabels(y_tick_labels)
    ax.tick_params(direction="in", top=True, right=True, length=2.5, width=0.6,
                   labelsize=5, pad=2, labelfontfamily="Liberation Sans", colors="black")
    for s in ax.spines.values():
        s.set_color("black")
        s.set_linewidth(1.0)
    ax.set_xlabel("Time (sec)", fontsize=9.5)
    ax.set_ylabel(p["ylabel"], fontsize=9.5)
    ax.xaxis.set_label_coords(0.5, p["xlab_y"])
    ax.xaxis.label.set_va("center")
    ax.yaxis.set_label_coords(p["ylab_x"], 0.5)
    ax.yaxis.label.set_va("center")

    handles, labels = ax.get_legend_handles_labels()
    leg = ax.legend(handles, labels, loc="upper right", bbox_to_anchor=p["leg"], mode="expand",
                    borderaxespad=0, fontsize=4.5, frameon=True, fancybox=False, framealpha=1,
                    edgecolor="black", handlelength=3.2, handletextpad=0.6,
                    labelspacing=p["leg_space"], borderpad=0.5)
    leg.get_frame().set_linewidth(1.0)

    line1, line2 = p["caption"]
    justified_line(fig, p["cap_x"][0], p["cap_x"][1], p["cap_y"][0], line1, CAPTION_SIZE)
    plain_line(fig, p["cap_x"][0], p["cap_y"][1], line2, CAPTION_SIZE)

fig.savefig("out.png", dpi=100)
